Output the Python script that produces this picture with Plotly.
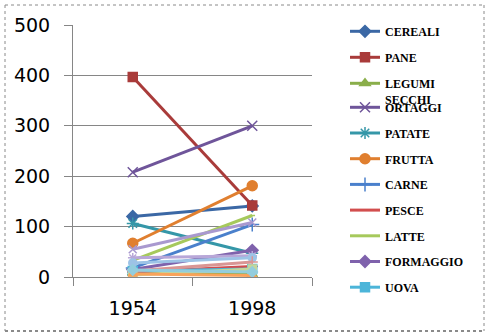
import plotly.graph_objects as go

years = ["1954", "1998"]

# legend series
cereali = [120, 141]
pane = [397, 142]
legumi_secchi = [8, 5]
ortaggi = [208, 300]
patate = [106, 47]
frutta = [67, 181]
carne = [18, 104]
pesce = [10, 21]
latte = [33, 122]
formaggio = [15, 53]
uova = [12, 16]

# further series (cut off from the legend)
extra_a = [55, 108]
extra_b = [38, 42]
extra_c = [28, 38]
extra_d = [12, 30]
extra_e = [4, 16]
extra_f = [6, 3]
extra_g = [14, 10]

W, H = 490, 336
L, R, T, B = 73, 178, 25, 59
PW, PH = W - L - R, H - T - B


def px(x):
    return (x - L) / PW


def py(y):
    return (H - B - y) / PH


series = [
    ("CEREALI", cereali, "#3B68A5", "diamond", 9, "legend"),
    ("PANE", pane, "#A93B3A", "square", 9, "legend"),
    ("LEGUMI<br>SECCHI", legumi_secchi, "#8AAE4A", "triangle-up", 9, "legend"),
    ("ORTAGGI", ortaggi, "#6F559A", "x-thin-open", 10, "legend2"),
    ("PATATE", patate, "#3597A8", "asterisk-open", 10, "legend2"),
    ("FRUTTA", frutta, "#E07F2F", "circle", 10, "legend2"),
    ("CARNE", carne, "#4A80CC", "cross-thin-open", 10, "legend2"),
    ("PESCE", pesce, "#D24E4E", "line-ew-open", 8, "legend2"),
    ("LATTE", latte, "#A6C95C", "line-ew-open", 4, "legend2"),
    ("FORMAGGIO", formaggio, "#7F62AC", "diamond", 9, "legend2"),
    ("UOVA", uova, "#4CB5D9", "square", 9, "legend2"),
]
extras = [
    (extra_a, "#A999CF", "x-thin-open"),
    (extra_b, "#B8A7D8", "asterisk-open"),
    (extra_c, "#9DC3E6", "circle"),
    (extra_d, "#D99694", "cross-thin-open"),
    (extra_e, "#C3D69B", "square"),
    (extra_f, "#F9A35A", "triangle-up"),
    (extra_g, "#93CDDD", "diamond"),
]

fig = go.Figure()
for i, (name, vals, col, sym, size, leg) in enumerate(series):
    fig.add_trace(go.Scatter(
        x=years, y=vals, name=name, mode="lines+markers",
        line=dict(color=col, width=3),
        marker=dict(symbol=sym, size=size, color=col,
                    line=dict(color=col, width=1.5)),
        legend=leg, legendgroup=f"g{i}",
    ))
for j, (vals, col, sym) in enumerate(extras):
    fig.add_trace(go.Scatter(
        x=years, y=vals, mode="lines+markers", showlegend=False,
        line=dict(color=col, width=3),
        marker=dict(symbol=sym, size=8, color=col,
                    line=dict(color=col, width=1.5)),
    ))

axis_col = "#868686"
tick_font = dict(family="DejaVu Sans", size=19, color="black")
legend_font = dict(family="Liberation Serif", size=12, color="black",
                   weight="bold")

fig.update_layout(
    width=W, height=H,
    margin=dict(l=L, r=R, t=T, b=B),
    paper_bgcolor="white", plot_bgcolor="white",
    xaxis=dict(type="category", categoryorder="array", categoryarray=years,
               range=[-0.5, 1.5], showline=True, linecolor=axis_col,
               linewidth=1, ticks="outside", ticklen=8, tickcolor=axis_col,
               tickson="boundaries", showgrid=False, tickfont=tick_font,
               ticklabelstandoff=14, zeroline=False),
    yaxis=dict(range=[0, 500], dtick=100, showgrid=True, gridcolor=axis_col,
               gridwidth=1, showline=True, linecolor=axis_col, linewidth=1,
               ticks="outside", ticklen=8, tickcolor=axis_col,
               tickfont=tick_font, ticklabelstandoff=10, zeroline=False),
    legend=dict(x=px(345), y=py(17), xanchor="left", yanchor="top",
                font=legend_font, tracegroupgap=7, valign="top",
                bgcolor="rgba(0,0,0,0)", borderwidth=0),
    legend2=dict(x=px(345), y=py(93), xanchor="left", yanchor="top",
                 font=legend_font, tracegroupgap=6.7, valign="top",
                 bgcolor="rgba(0,0,0,0)", borderwidth=0),
    showlegend=True,
    shapes=[
        dict(type="line", xref="paper", yref="paper", x0=px(5), x1=px(5),
             y0=py(5), y1=py(331), line=dict(color="#8a8a8a", width=1, dash="dot")),
        dict(type="line", xref="paper", yref="paper", x0=px(5), x1=px(484),
             y0=py(5), y1=py(5), line=dict(color="#8a8a8a", width=1, dash="dot")),
        dict(type="line", xref="paper", yref="paper", x0=px(484), x1=px(484),
             y0=py(5), y1=py(331), line=dict(color="#8a8a8a", width=1, dash="dot")),
        dict(type="line", xref="paper", yref="paper", x0=px(5), x1=px(484),
             y0=py(331), y1=py(331), line=dict(color="#8a8a8a", width=2, dash="dot")),
    ],
)

fig.write_html("out.html")
